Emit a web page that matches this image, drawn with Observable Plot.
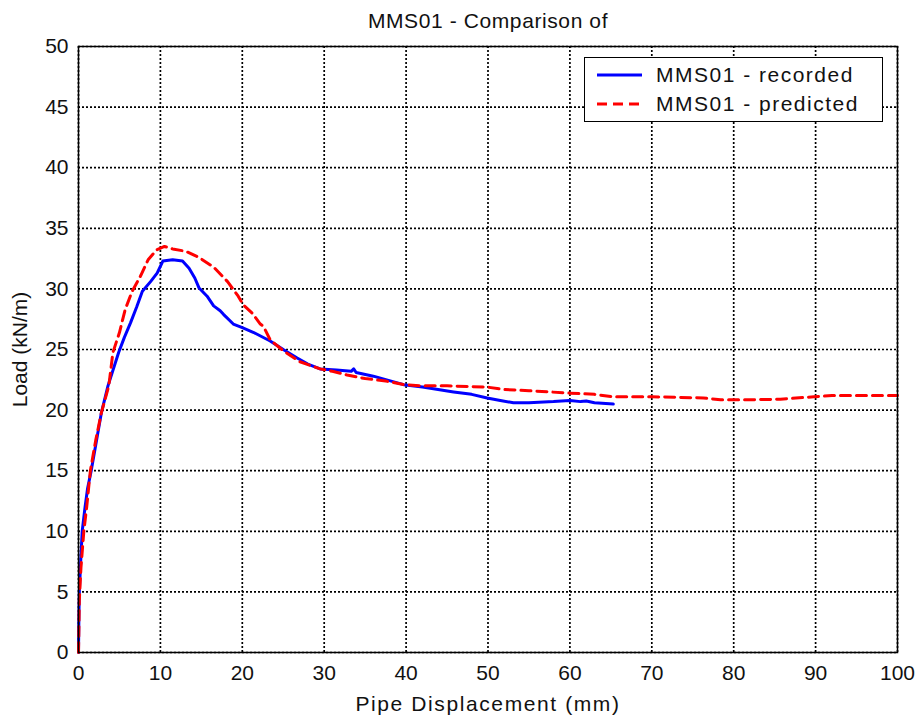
<!DOCTYPE html>
<html>
<head>
<meta charset="utf-8">
<script src="https://cdn.jsdelivr.net/npm/d3@7"></script>
<script src="https://cdn.jsdelivr.net/npm/@observablehq/plot@0.6"></script>
<style>
  body { margin: 0; background: #fff; font-family: "Liberation Sans", Arial, sans-serif; }
  #wrap { position: relative; width: 924px; height: 722px; }
  #title { position: absolute; left: 0; top: 0; width: 976px; height: 41px; line-height: 41px; text-align: center; font-size: 21px; letter-spacing: 0.6px; color: #111; }
  #chart { position: absolute; left: 0; top: 0; }
  #legend { position: absolute; left: 584px; top: 57px; width: 299px; height: 65px; box-sizing: border-box; border: 1.5px solid #000; background: #fff; font-size: 21px; letter-spacing: 1.5px; color: #111; }
  .row { position: absolute; left: 0; width: 290px; height: 30px; line-height: 30px; }
  .row span { position: absolute; left: 71px; white-space: nowrap; }
  .row svg { position: absolute; left: 11px; top: 12px; }
</style>
</head>
<body>
<div id="wrap">
  <div id="chart"></div>
  <div id="title">MMS01 - Comparison of</div>
  <div id="legend">
    <div class="row" style="top:2px"><svg width="48" height="6"><line x1="1" y1="3" x2="46" y2="3" stroke="#0000ff" stroke-width="3"/></svg><span>MMS01 - recorded</span></div>
    <div class="row" style="top:31px"><svg width="48" height="6"><line x1="1" y1="3" x2="46" y2="3" stroke="#ff0000" stroke-width="3" stroke-dasharray="10,6"/></svg><span>MMS01 - predicted</span></div>
  </div>
</div>
<script>
const recordedX = [0,0.05,0.1,0.3,0.45,0.8,1.1,1.55,2.2,2.8,3.6,4.9,5.6,6.35,7.1,7.8,8.8,9.6,10.3,11.5,12.7,13.5,14.2,14.7,15.7,16.5,17.3,17.7,18.9,20,21.4,23.4,25,26.7,28,29.5,31.5,33.3,33.6,33.9,36,39.7,42,45.8,48,49.9,51.5,53.1,55,58,60,61.3,62,63,65.3];
const recordedY = [0,3,5,8,10,12,13.5,15,17.5,19.8,22,24.75,26,27.2,28.5,29.8,30.6,31.3,32.3,32.4,32.3,31.7,30.9,30.1,29.4,28.6,28.2,27.9,27.1,26.8,26.4,25.7,25.0,24.3,23.8,23.4,23.3,23.2,23.4,23.1,22.8,22.1,21.9,21.5,21.3,21.0,20.8,20.6,20.6,20.7,20.8,20.7,20.75,20.6,20.5];
const predictedX = [0,0.05,0.1,0.3,0.65,1.0,1.45,2.1,2.8,3.7,4.2,5.0,5.7,6.55,7.6,8.5,9.5,10.5,11.5,13.1,14.7,16.5,18.2,19.5,20.1,21.2,22.2,22.6,23.4,25,27,29.5,31,32.8,35,37.5,39.7,42,45,49.9,51.9,55,60,63,65.3,70,76.3,78.4,82,85.7,89.8,92,95,100];
const predictedY = [0,2,4.3,7,10,12,15,17.5,19.8,22,24.75,26.4,28.3,29.8,31.1,32.4,33.2,33.5,33.3,33.1,32.6,31.8,30.6,29.4,28.7,28.0,27.1,26.9,25.8,24.9,24.0,23.4,23.2,22.9,22.6,22.4,22.1,22.0,22.0,21.9,21.7,21.6,21.4,21.3,21.1,21.1,21.0,20.85,20.85,20.9,21.1,21.2,21.2,21.2];
const xTicks = [0,10,20,30,40,50,60,70,80,90,100];
const yTicks = [0,5,10,15,20,25,30,35,40,45,50];
const xLabel = "Pipe Displacement (mm)";
const yLabel = "Load (kN/m)";

const recorded = recordedX.map((x, i) => ({x, y: recordedY[i]}));
const predicted = predictedX.map((x, i) => ({x, y: predictedY[i]}));

const chart = Plot.plot({
  width: 924,
  height: 722,
  marginLeft: 78,
  marginRight: 27,
  marginTop: 46,
  marginBottom: 70,
  style: {fontFamily: "'Liberation Sans', Arial, sans-serif", fontSize: "21px", color: "#111", background: "transparent"},
  x: {domain: [0, 100]},
  y: {domain: [0, 50]},
  marks: [
    Plot.gridX(xTicks, {stroke: "#000", strokeOpacity: 1, strokeWidth: 1.7, strokeDasharray: "2,2"}),
    Plot.gridY(yTicks, {stroke: "#000", strokeOpacity: 1, strokeWidth: 1.7, strokeDasharray: "2,2"}),
    Plot.axisX({ticks: xTicks, tickSize: 0, tickPadding: 13, fontSize: 21, label: xLabel, labelAnchor: "center", labelArrow: "none", labelOffset: 58}),
    Plot.axisY({ticks: yTicks, tickSize: 0, tickPadding: 10, fontSize: 21, label: yLabel, labelAnchor: "center", labelArrow: "none", labelOffset: 66}),
    Plot.line(recorded, {x: "x", y: "y", stroke: "#0000ff", strokeWidth: 3}),
    Plot.line(predicted, {x: "x", y: "y", stroke: "#ff0000", strokeWidth: 3, strokeDasharray: "10,6"}),
    Plot.frame({stroke: "#000", strokeWidth: 1.5})
  ]
});
d3.select(chart).selectAll("text")
  .filter(function() { return this.textContent === xLabel; })
  .attr("letter-spacing", "1.6px");
document.getElementById("chart").appendChild(chart);
</script>
</body>
</html>
